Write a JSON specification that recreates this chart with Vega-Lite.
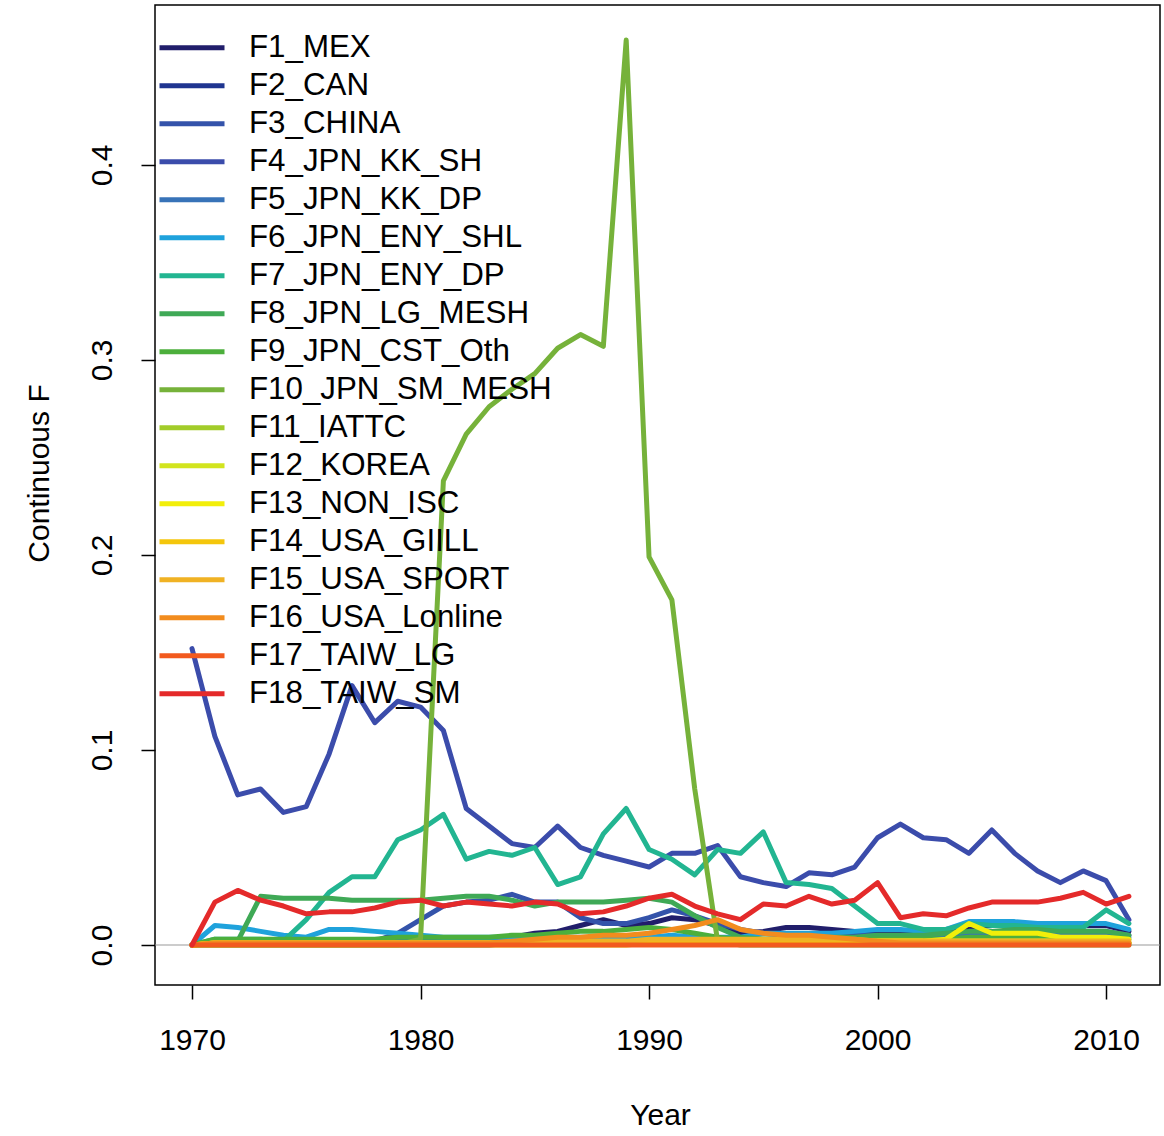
{
  "$schema": "https://vega.github.io/schema/vega-lite/v6.json",
  "width": 1005,
  "height": 980,
  "autosize": {"type": "none"},
  "padding": {"left": 155, "top": 5, "right": 4, "bottom": 151},
  "background": "white",
  "config": {
    "view": {"stroke": "black", "strokeWidth": 1.5},
    "font": "Liberation Sans"
  },
  "layer": [
    {
      "data": {"values": [{"ref": "zero"}]},
      "mark": {"type": "rule", "color": "#9a9a9a", "strokeWidth": 1.2},
      "encoding": {"y": {"datum": 0, "type": "quantitative"}}
    },
    {
      "data": {"values": [
{"year":1970,"F1_MEX":0,"F2_CAN":0,"F3_CHINA":0,"F4_JPN_KK_SH":0.152,"F5_JPN_KK_DP":0,"F6_JPN_ENY_SHL":0,"F7_JPN_ENY_DP":0,"F8_JPN_LG_MESH":0,"F9_JPN_CST_Oth":0,"F10_JPN_SM_MESH":0,"F11_IATTC":0,"F12_KOREA":0,"F13_NON_ISC":0,"F14_USA_GIILL":0,"F15_USA_SPORT":0,"F16_USA_Lonline":0,"F17_TAIW_LG":0,"F18_TAIW_SM":0},
{"year":1971,"F1_MEX":0.001,"F2_CAN":0,"F3_CHINA":0.001,"F4_JPN_KK_SH":0.107,"F5_JPN_KK_DP":0.002,"F6_JPN_ENY_SHL":0.010,"F7_JPN_ENY_DP":0.003,"F8_JPN_LG_MESH":0.001,"F9_JPN_CST_Oth":0.003,"F10_JPN_SM_MESH":0,"F11_IATTC":0.001,"F12_KOREA":0,"F13_NON_ISC":0.001,"F14_USA_GIILL":0.001,"F15_USA_SPORT":0.001,"F16_USA_Lonline":0.001,"F17_TAIW_LG":0,"F18_TAIW_SM":0.022},
{"year":1972,"F1_MEX":0.001,"F2_CAN":0,"F3_CHINA":0.001,"F4_JPN_KK_SH":0.077,"F5_JPN_KK_DP":0.002,"F6_JPN_ENY_SHL":0.009,"F7_JPN_ENY_DP":0.003,"F8_JPN_LG_MESH":0.002,"F9_JPN_CST_Oth":0.003,"F10_JPN_SM_MESH":0,"F11_IATTC":0.001,"F12_KOREA":0,"F13_NON_ISC":0.001,"F14_USA_GIILL":0.001,"F15_USA_SPORT":0.001,"F16_USA_Lonline":0.001,"F17_TAIW_LG":0,"F18_TAIW_SM":0.028},
{"year":1973,"F1_MEX":0.001,"F2_CAN":0,"F3_CHINA":0.001,"F4_JPN_KK_SH":0.080,"F5_JPN_KK_DP":0.002,"F6_JPN_ENY_SHL":0.007,"F7_JPN_ENY_DP":0.003,"F8_JPN_LG_MESH":0.025,"F9_JPN_CST_Oth":0.003,"F10_JPN_SM_MESH":0,"F11_IATTC":0.001,"F12_KOREA":0,"F13_NON_ISC":0.001,"F14_USA_GIILL":0.001,"F15_USA_SPORT":0.001,"F16_USA_Lonline":0.001,"F17_TAIW_LG":0,"F18_TAIW_SM":0.023},
{"year":1974,"F1_MEX":0.001,"F2_CAN":0,"F3_CHINA":0.001,"F4_JPN_KK_SH":0.068,"F5_JPN_KK_DP":0.002,"F6_JPN_ENY_SHL":0.005,"F7_JPN_ENY_DP":0.002,"F8_JPN_LG_MESH":0.024,"F9_JPN_CST_Oth":0.003,"F10_JPN_SM_MESH":0,"F11_IATTC":0.001,"F12_KOREA":0,"F13_NON_ISC":0.001,"F14_USA_GIILL":0.001,"F15_USA_SPORT":0.001,"F16_USA_Lonline":0.001,"F17_TAIW_LG":0,"F18_TAIW_SM":0.020},
{"year":1975,"F1_MEX":0.001,"F2_CAN":0,"F3_CHINA":0.001,"F4_JPN_KK_SH":0.071,"F5_JPN_KK_DP":0.002,"F6_JPN_ENY_SHL":0.004,"F7_JPN_ENY_DP":0.013,"F8_JPN_LG_MESH":0.024,"F9_JPN_CST_Oth":0.003,"F10_JPN_SM_MESH":0,"F11_IATTC":0.001,"F12_KOREA":0,"F13_NON_ISC":0.001,"F14_USA_GIILL":0.001,"F15_USA_SPORT":0.001,"F16_USA_Lonline":0.001,"F17_TAIW_LG":0,"F18_TAIW_SM":0.016},
{"year":1976,"F1_MEX":0.001,"F2_CAN":0,"F3_CHINA":0.001,"F4_JPN_KK_SH":0.098,"F5_JPN_KK_DP":0.002,"F6_JPN_ENY_SHL":0.008,"F7_JPN_ENY_DP":0.027,"F8_JPN_LG_MESH":0.024,"F9_JPN_CST_Oth":0.003,"F10_JPN_SM_MESH":0,"F11_IATTC":0.001,"F12_KOREA":0,"F13_NON_ISC":0.001,"F14_USA_GIILL":0.001,"F15_USA_SPORT":0.001,"F16_USA_Lonline":0.001,"F17_TAIW_LG":0,"F18_TAIW_SM":0.017},
{"year":1977,"F1_MEX":0.001,"F2_CAN":0,"F3_CHINA":0.002,"F4_JPN_KK_SH":0.133,"F5_JPN_KK_DP":0.002,"F6_JPN_ENY_SHL":0.008,"F7_JPN_ENY_DP":0.035,"F8_JPN_LG_MESH":0.023,"F9_JPN_CST_Oth":0.003,"F10_JPN_SM_MESH":0,"F11_IATTC":0.001,"F12_KOREA":0,"F13_NON_ISC":0.001,"F14_USA_GIILL":0.001,"F15_USA_SPORT":0.001,"F16_USA_Lonline":0.001,"F17_TAIW_LG":0,"F18_TAIW_SM":0.017},
{"year":1978,"F1_MEX":0.001,"F2_CAN":0,"F3_CHINA":0.002,"F4_JPN_KK_SH":0.114,"F5_JPN_KK_DP":0.002,"F6_JPN_ENY_SHL":0.007,"F7_JPN_ENY_DP":0.035,"F8_JPN_LG_MESH":0.023,"F9_JPN_CST_Oth":0.003,"F10_JPN_SM_MESH":0,"F11_IATTC":0.001,"F12_KOREA":0,"F13_NON_ISC":0.001,"F14_USA_GIILL":0.001,"F15_USA_SPORT":0.001,"F16_USA_Lonline":0.001,"F17_TAIW_LG":0,"F18_TAIW_SM":0.019},
{"year":1979,"F1_MEX":0.001,"F2_CAN":0,"F3_CHINA":0.006,"F4_JPN_KK_SH":0.125,"F5_JPN_KK_DP":0.002,"F6_JPN_ENY_SHL":0.006,"F7_JPN_ENY_DP":0.054,"F8_JPN_LG_MESH":0.023,"F9_JPN_CST_Oth":0.004,"F10_JPN_SM_MESH":0,"F11_IATTC":0.001,"F12_KOREA":0,"F13_NON_ISC":0.001,"F14_USA_GIILL":0.001,"F15_USA_SPORT":0.001,"F16_USA_Lonline":0.001,"F17_TAIW_LG":0,"F18_TAIW_SM":0.022},
{"year":1980,"F1_MEX":0.001,"F2_CAN":0,"F3_CHINA":0.013,"F4_JPN_KK_SH":0.122,"F5_JPN_KK_DP":0.002,"F6_JPN_ENY_SHL":0.005,"F7_JPN_ENY_DP":0.059,"F8_JPN_LG_MESH":0.023,"F9_JPN_CST_Oth":0.004,"F10_JPN_SM_MESH":0.003,"F11_IATTC":0.001,"F12_KOREA":0,"F13_NON_ISC":0.001,"F14_USA_GIILL":0.001,"F15_USA_SPORT":0.001,"F16_USA_Lonline":0.001,"F17_TAIW_LG":0,"F18_TAIW_SM":0.023},
{"year":1981,"F1_MEX":0.001,"F2_CAN":0,"F3_CHINA":0.020,"F4_JPN_KK_SH":0.110,"F5_JPN_KK_DP":0.002,"F6_JPN_ENY_SHL":0.004,"F7_JPN_ENY_DP":0.067,"F8_JPN_LG_MESH":0.024,"F9_JPN_CST_Oth":0.004,"F10_JPN_SM_MESH":0.238,"F11_IATTC":0.001,"F12_KOREA":0,"F13_NON_ISC":0.001,"F14_USA_GIILL":0.001,"F15_USA_SPORT":0.001,"F16_USA_Lonline":0.001,"F17_TAIW_LG":0,"F18_TAIW_SM":0.020},
{"year":1982,"F1_MEX":0.002,"F2_CAN":0,"F3_CHINA":0.022,"F4_JPN_KK_SH":0.070,"F5_JPN_KK_DP":0.002,"F6_JPN_ENY_SHL":0.004,"F7_JPN_ENY_DP":0.044,"F8_JPN_LG_MESH":0.025,"F9_JPN_CST_Oth":0.004,"F10_JPN_SM_MESH":0.262,"F11_IATTC":0.001,"F12_KOREA":0,"F13_NON_ISC":0.001,"F14_USA_GIILL":0.001,"F15_USA_SPORT":0.001,"F16_USA_Lonline":0.001,"F17_TAIW_LG":0,"F18_TAIW_SM":0.022},
{"year":1983,"F1_MEX":0.003,"F2_CAN":0,"F3_CHINA":0.023,"F4_JPN_KK_SH":0.061,"F5_JPN_KK_DP":0.002,"F6_JPN_ENY_SHL":0.004,"F7_JPN_ENY_DP":0.048,"F8_JPN_LG_MESH":0.025,"F9_JPN_CST_Oth":0.004,"F10_JPN_SM_MESH":0.276,"F11_IATTC":0.001,"F12_KOREA":0,"F13_NON_ISC":0.001,"F14_USA_GIILL":0.001,"F15_USA_SPORT":0.001,"F16_USA_Lonline":0.001,"F17_TAIW_LG":0,"F18_TAIW_SM":0.021},
{"year":1984,"F1_MEX":0.004,"F2_CAN":0.001,"F3_CHINA":0.026,"F4_JPN_KK_SH":0.052,"F5_JPN_KK_DP":0.003,"F6_JPN_ENY_SHL":0.004,"F7_JPN_ENY_DP":0.046,"F8_JPN_LG_MESH":0.023,"F9_JPN_CST_Oth":0.005,"F10_JPN_SM_MESH":0.285,"F11_IATTC":0.001,"F12_KOREA":0,"F13_NON_ISC":0.001,"F14_USA_GIILL":0.001,"F15_USA_SPORT":0.001,"F16_USA_Lonline":0.002,"F17_TAIW_LG":0,"F18_TAIW_SM":0.020},
{"year":1985,"F1_MEX":0.006,"F2_CAN":0.001,"F3_CHINA":0.022,"F4_JPN_KK_SH":0.050,"F5_JPN_KK_DP":0.003,"F6_JPN_ENY_SHL":0.004,"F7_JPN_ENY_DP":0.050,"F8_JPN_LG_MESH":0.020,"F9_JPN_CST_Oth":0.005,"F10_JPN_SM_MESH":0.293,"F11_IATTC":0.001,"F12_KOREA":0,"F13_NON_ISC":0.001,"F14_USA_GIILL":0.001,"F15_USA_SPORT":0.002,"F16_USA_Lonline":0.003,"F17_TAIW_LG":0,"F18_TAIW_SM":0.022},
{"year":1986,"F1_MEX":0.007,"F2_CAN":0.001,"F3_CHINA":0.022,"F4_JPN_KK_SH":0.061,"F5_JPN_KK_DP":0.003,"F6_JPN_ENY_SHL":0.004,"F7_JPN_ENY_DP":0.031,"F8_JPN_LG_MESH":0.022,"F9_JPN_CST_Oth":0.006,"F10_JPN_SM_MESH":0.306,"F11_IATTC":0.001,"F12_KOREA":0,"F13_NON_ISC":0.001,"F14_USA_GIILL":0.001,"F15_USA_SPORT":0.002,"F16_USA_Lonline":0.004,"F17_TAIW_LG":0,"F18_TAIW_SM":0.021},
{"year":1987,"F1_MEX":0.010,"F2_CAN":0.001,"F3_CHINA":0.014,"F4_JPN_KK_SH":0.050,"F5_JPN_KK_DP":0.003,"F6_JPN_ENY_SHL":0.004,"F7_JPN_ENY_DP":0.035,"F8_JPN_LG_MESH":0.022,"F9_JPN_CST_Oth":0.007,"F10_JPN_SM_MESH":0.313,"F11_IATTC":0.001,"F12_KOREA":0,"F13_NON_ISC":0.001,"F14_USA_GIILL":0.001,"F15_USA_SPORT":0.002,"F16_USA_Lonline":0.004,"F17_TAIW_LG":0,"F18_TAIW_SM":0.016},
{"year":1988,"F1_MEX":0.013,"F2_CAN":0.002,"F3_CHINA":0.011,"F4_JPN_KK_SH":0.046,"F5_JPN_KK_DP":0.003,"F6_JPN_ENY_SHL":0.004,"F7_JPN_ENY_DP":0.057,"F8_JPN_LG_MESH":0.022,"F9_JPN_CST_Oth":0.007,"F10_JPN_SM_MESH":0.307,"F11_IATTC":0.001,"F12_KOREA":0,"F13_NON_ISC":0.001,"F14_USA_GIILL":0.001,"F15_USA_SPORT":0.002,"F16_USA_Lonline":0.005,"F17_TAIW_LG":0,"F18_TAIW_SM":0.017},
{"year":1989,"F1_MEX":0.010,"F2_CAN":0.002,"F3_CHINA":0.011,"F4_JPN_KK_SH":0.043,"F5_JPN_KK_DP":0.003,"F6_JPN_ENY_SHL":0.004,"F7_JPN_ENY_DP":0.070,"F8_JPN_LG_MESH":0.023,"F9_JPN_CST_Oth":0.008,"F10_JPN_SM_MESH":0.464,"F11_IATTC":0.001,"F12_KOREA":0,"F13_NON_ISC":0.001,"F14_USA_GIILL":0.001,"F15_USA_SPORT":0.002,"F16_USA_Lonline":0.005,"F17_TAIW_LG":0,"F18_TAIW_SM":0.020},
{"year":1990,"F1_MEX":0.011,"F2_CAN":0.002,"F3_CHINA":0.014,"F4_JPN_KK_SH":0.040,"F5_JPN_KK_DP":0.003,"F6_JPN_ENY_SHL":0.004,"F7_JPN_ENY_DP":0.049,"F8_JPN_LG_MESH":0.024,"F9_JPN_CST_Oth":0.009,"F10_JPN_SM_MESH":0.199,"F11_IATTC":0.001,"F12_KOREA":0.001,"F13_NON_ISC":0.002,"F14_USA_GIILL":0.002,"F15_USA_SPORT":0.003,"F16_USA_Lonline":0.006,"F17_TAIW_LG":0,"F18_TAIW_SM":0.024},
{"year":1991,"F1_MEX":0.014,"F2_CAN":0.002,"F3_CHINA":0.018,"F4_JPN_KK_SH":0.047,"F5_JPN_KK_DP":0.003,"F6_JPN_ENY_SHL":0.005,"F7_JPN_ENY_DP":0.044,"F8_JPN_LG_MESH":0.022,"F9_JPN_CST_Oth":0.008,"F10_JPN_SM_MESH":0.177,"F11_IATTC":0.001,"F12_KOREA":0.001,"F13_NON_ISC":0.002,"F14_USA_GIILL":0.002,"F15_USA_SPORT":0.003,"F16_USA_Lonline":0.008,"F17_TAIW_LG":0,"F18_TAIW_SM":0.026},
{"year":1992,"F1_MEX":0.013,"F2_CAN":0.002,"F3_CHINA":0.015,"F4_JPN_KK_SH":0.047,"F5_JPN_KK_DP":0.003,"F6_JPN_ENY_SHL":0.004,"F7_JPN_ENY_DP":0.036,"F8_JPN_LG_MESH":0.015,"F9_JPN_CST_Oth":0.006,"F10_JPN_SM_MESH":0.080,"F11_IATTC":0.001,"F12_KOREA":0.001,"F13_NON_ISC":0.002,"F14_USA_GIILL":0.002,"F15_USA_SPORT":0.003,"F16_USA_Lonline":0.010,"F17_TAIW_LG":0,"F18_TAIW_SM":0.020},
{"year":1993,"F1_MEX":0.010,"F2_CAN":0.002,"F3_CHINA":0.011,"F4_JPN_KK_SH":0.051,"F5_JPN_KK_DP":0.003,"F6_JPN_ENY_SHL":0.004,"F7_JPN_ENY_DP":0.049,"F8_JPN_LG_MESH":0.009,"F9_JPN_CST_Oth":0.004,"F10_JPN_SM_MESH":0.002,"F11_IATTC":0.001,"F12_KOREA":0.001,"F13_NON_ISC":0.002,"F14_USA_GIILL":0.002,"F15_USA_SPORT":0.003,"F16_USA_Lonline":0.013,"F17_TAIW_LG":0,"F18_TAIW_SM":0.016},
{"year":1994,"F1_MEX":0.006,"F2_CAN":0.002,"F3_CHINA":0.008,"F4_JPN_KK_SH":0.035,"F5_JPN_KK_DP":0.003,"F6_JPN_ENY_SHL":0.004,"F7_JPN_ENY_DP":0.047,"F8_JPN_LG_MESH":0.004,"F9_JPN_CST_Oth":0.003,"F10_JPN_SM_MESH":0,"F11_IATTC":0.001,"F12_KOREA":0.001,"F13_NON_ISC":0.002,"F14_USA_GIILL":0.002,"F15_USA_SPORT":0.003,"F16_USA_Lonline":0.008,"F17_TAIW_LG":0,"F18_TAIW_SM":0.013},
{"year":1995,"F1_MEX":0.007,"F2_CAN":0.002,"F3_CHINA":0.006,"F4_JPN_KK_SH":0.032,"F5_JPN_KK_DP":0.003,"F6_JPN_ENY_SHL":0.006,"F7_JPN_ENY_DP":0.058,"F8_JPN_LG_MESH":0.003,"F9_JPN_CST_Oth":0.003,"F10_JPN_SM_MESH":0,"F11_IATTC":0.001,"F12_KOREA":0.001,"F13_NON_ISC":0.002,"F14_USA_GIILL":0.002,"F15_USA_SPORT":0.003,"F16_USA_Lonline":0.006,"F17_TAIW_LG":0,"F18_TAIW_SM":0.021},
{"year":1996,"F1_MEX":0.009,"F2_CAN":0.002,"F3_CHINA":0.005,"F4_JPN_KK_SH":0.030,"F5_JPN_KK_DP":0.003,"F6_JPN_ENY_SHL":0.006,"F7_JPN_ENY_DP":0.032,"F8_JPN_LG_MESH":0.003,"F9_JPN_CST_Oth":0.003,"F10_JPN_SM_MESH":0,"F11_IATTC":0.001,"F12_KOREA":0.001,"F13_NON_ISC":0.002,"F14_USA_GIILL":0.002,"F15_USA_SPORT":0.003,"F16_USA_Lonline":0.005,"F17_TAIW_LG":0,"F18_TAIW_SM":0.020},
{"year":1997,"F1_MEX":0.009,"F2_CAN":0.002,"F3_CHINA":0.005,"F4_JPN_KK_SH":0.037,"F5_JPN_KK_DP":0.003,"F6_JPN_ENY_SHL":0.006,"F7_JPN_ENY_DP":0.031,"F8_JPN_LG_MESH":0.004,"F9_JPN_CST_Oth":0.003,"F10_JPN_SM_MESH":0,"F11_IATTC":0.001,"F12_KOREA":0.001,"F13_NON_ISC":0.002,"F14_USA_GIILL":0.002,"F15_USA_SPORT":0.003,"F16_USA_Lonline":0.005,"F17_TAIW_LG":0,"F18_TAIW_SM":0.025},
{"year":1998,"F1_MEX":0.008,"F2_CAN":0.002,"F3_CHINA":0.005,"F4_JPN_KK_SH":0.036,"F5_JPN_KK_DP":0.003,"F6_JPN_ENY_SHL":0.006,"F7_JPN_ENY_DP":0.029,"F8_JPN_LG_MESH":0.004,"F9_JPN_CST_Oth":0.003,"F10_JPN_SM_MESH":0,"F11_IATTC":0.001,"F12_KOREA":0.001,"F13_NON_ISC":0.002,"F14_USA_GIILL":0.002,"F15_USA_SPORT":0.003,"F16_USA_Lonline":0.004,"F17_TAIW_LG":0,"F18_TAIW_SM":0.021},
{"year":1999,"F1_MEX":0.007,"F2_CAN":0.002,"F3_CHINA":0.005,"F4_JPN_KK_SH":0.040,"F5_JPN_KK_DP":0.003,"F6_JPN_ENY_SHL":0.007,"F7_JPN_ENY_DP":0.020,"F8_JPN_LG_MESH":0.004,"F9_JPN_CST_Oth":0.003,"F10_JPN_SM_MESH":0,"F11_IATTC":0.001,"F12_KOREA":0.001,"F13_NON_ISC":0.002,"F14_USA_GIILL":0.002,"F15_USA_SPORT":0.003,"F16_USA_Lonline":0.003,"F17_TAIW_LG":0,"F18_TAIW_SM":0.023},
{"year":2000,"F1_MEX":0.006,"F2_CAN":0.002,"F3_CHINA":0.005,"F4_JPN_KK_SH":0.055,"F5_JPN_KK_DP":0.004,"F6_JPN_ENY_SHL":0.008,"F7_JPN_ENY_DP":0.011,"F8_JPN_LG_MESH":0.005,"F9_JPN_CST_Oth":0.003,"F10_JPN_SM_MESH":0,"F11_IATTC":0.001,"F12_KOREA":0.002,"F13_NON_ISC":0.002,"F14_USA_GIILL":0.001,"F15_USA_SPORT":0.002,"F16_USA_Lonline":0.002,"F17_TAIW_LG":0,"F18_TAIW_SM":0.032},
{"year":2001,"F1_MEX":0.006,"F2_CAN":0.002,"F3_CHINA":0.005,"F4_JPN_KK_SH":0.062,"F5_JPN_KK_DP":0.004,"F6_JPN_ENY_SHL":0.008,"F7_JPN_ENY_DP":0.011,"F8_JPN_LG_MESH":0.005,"F9_JPN_CST_Oth":0.003,"F10_JPN_SM_MESH":0,"F11_IATTC":0.001,"F12_KOREA":0.002,"F13_NON_ISC":0.002,"F14_USA_GIILL":0.001,"F15_USA_SPORT":0.002,"F16_USA_Lonline":0.001,"F17_TAIW_LG":0,"F18_TAIW_SM":0.014},
{"year":2002,"F1_MEX":0.006,"F2_CAN":0.002,"F3_CHINA":0.005,"F4_JPN_KK_SH":0.055,"F5_JPN_KK_DP":0.004,"F6_JPN_ENY_SHL":0.007,"F7_JPN_ENY_DP":0.008,"F8_JPN_LG_MESH":0.005,"F9_JPN_CST_Oth":0.003,"F10_JPN_SM_MESH":0,"F11_IATTC":0.001,"F12_KOREA":0.002,"F13_NON_ISC":0.002,"F14_USA_GIILL":0.001,"F15_USA_SPORT":0.002,"F16_USA_Lonline":0.001,"F17_TAIW_LG":0,"F18_TAIW_SM":0.016},
{"year":2003,"F1_MEX":0.007,"F2_CAN":0.002,"F3_CHINA":0.005,"F4_JPN_KK_SH":0.054,"F5_JPN_KK_DP":0.004,"F6_JPN_ENY_SHL":0.008,"F7_JPN_ENY_DP":0.008,"F8_JPN_LG_MESH":0.006,"F9_JPN_CST_Oth":0.003,"F10_JPN_SM_MESH":0,"F11_IATTC":0.001,"F12_KOREA":0.002,"F13_NON_ISC":0.003,"F14_USA_GIILL":0.001,"F15_USA_SPORT":0.002,"F16_USA_Lonline":0.001,"F17_TAIW_LG":0,"F18_TAIW_SM":0.015},
{"year":2004,"F1_MEX":0.009,"F2_CAN":0.002,"F3_CHINA":0.006,"F4_JPN_KK_SH":0.047,"F5_JPN_KK_DP":0.005,"F6_JPN_ENY_SHL":0.012,"F7_JPN_ENY_DP":0.011,"F8_JPN_LG_MESH":0.007,"F9_JPN_CST_Oth":0.004,"F10_JPN_SM_MESH":0,"F11_IATTC":0.001,"F12_KOREA":0.002,"F13_NON_ISC":0.011,"F14_USA_GIILL":0.001,"F15_USA_SPORT":0.002,"F16_USA_Lonline":0.001,"F17_TAIW_LG":0,"F18_TAIW_SM":0.019},
{"year":2005,"F1_MEX":0.010,"F2_CAN":0.002,"F3_CHINA":0.006,"F4_JPN_KK_SH":0.059,"F5_JPN_KK_DP":0.005,"F6_JPN_ENY_SHL":0.012,"F7_JPN_ENY_DP":0.010,"F8_JPN_LG_MESH":0.007,"F9_JPN_CST_Oth":0.004,"F10_JPN_SM_MESH":0,"F11_IATTC":0.001,"F12_KOREA":0.002,"F13_NON_ISC":0.006,"F14_USA_GIILL":0.001,"F15_USA_SPORT":0.002,"F16_USA_Lonline":0.001,"F17_TAIW_LG":0,"F18_TAIW_SM":0.022},
{"year":2006,"F1_MEX":0.010,"F2_CAN":0.002,"F3_CHINA":0.006,"F4_JPN_KK_SH":0.047,"F5_JPN_KK_DP":0.005,"F6_JPN_ENY_SHL":0.012,"F7_JPN_ENY_DP":0.010,"F8_JPN_LG_MESH":0.008,"F9_JPN_CST_Oth":0.004,"F10_JPN_SM_MESH":0,"F11_IATTC":0.001,"F12_KOREA":0.002,"F13_NON_ISC":0.006,"F14_USA_GIILL":0.001,"F15_USA_SPORT":0.002,"F16_USA_Lonline":0.001,"F17_TAIW_LG":0,"F18_TAIW_SM":0.022},
{"year":2007,"F1_MEX":0.010,"F2_CAN":0.002,"F3_CHINA":0.006,"F4_JPN_KK_SH":0.038,"F5_JPN_KK_DP":0.005,"F6_JPN_ENY_SHL":0.011,"F7_JPN_ENY_DP":0.009,"F8_JPN_LG_MESH":0.008,"F9_JPN_CST_Oth":0.004,"F10_JPN_SM_MESH":0,"F11_IATTC":0.001,"F12_KOREA":0.002,"F13_NON_ISC":0.006,"F14_USA_GIILL":0.001,"F15_USA_SPORT":0.002,"F16_USA_Lonline":0.001,"F17_TAIW_LG":0,"F18_TAIW_SM":0.022},
{"year":2008,"F1_MEX":0.010,"F2_CAN":0.002,"F3_CHINA":0.007,"F4_JPN_KK_SH":0.032,"F5_JPN_KK_DP":0.005,"F6_JPN_ENY_SHL":0.011,"F7_JPN_ENY_DP":0.009,"F8_JPN_LG_MESH":0.007,"F9_JPN_CST_Oth":0.004,"F10_JPN_SM_MESH":0,"F11_IATTC":0.001,"F12_KOREA":0.002,"F13_NON_ISC":0.004,"F14_USA_GIILL":0.001,"F15_USA_SPORT":0.002,"F16_USA_Lonline":0.001,"F17_TAIW_LG":0,"F18_TAIW_SM":0.024},
{"year":2009,"F1_MEX":0.010,"F2_CAN":0.002,"F3_CHINA":0.007,"F4_JPN_KK_SH":0.038,"F5_JPN_KK_DP":0.005,"F6_JPN_ENY_SHL":0.011,"F7_JPN_ENY_DP":0.009,"F8_JPN_LG_MESH":0.007,"F9_JPN_CST_Oth":0.004,"F10_JPN_SM_MESH":0,"F11_IATTC":0.001,"F12_KOREA":0.002,"F13_NON_ISC":0.004,"F14_USA_GIILL":0.001,"F15_USA_SPORT":0.002,"F16_USA_Lonline":0.001,"F17_TAIW_LG":0,"F18_TAIW_SM":0.027},
{"year":2010,"F1_MEX":0.010,"F2_CAN":0.002,"F3_CHINA":0.007,"F4_JPN_KK_SH":0.033,"F5_JPN_KK_DP":0.005,"F6_JPN_ENY_SHL":0.011,"F7_JPN_ENY_DP":0.018,"F8_JPN_LG_MESH":0.007,"F9_JPN_CST_Oth":0.004,"F10_JPN_SM_MESH":0,"F11_IATTC":0.001,"F12_KOREA":0.002,"F13_NON_ISC":0.004,"F14_USA_GIILL":0.001,"F15_USA_SPORT":0.002,"F16_USA_Lonline":0.001,"F17_TAIW_LG":0,"F18_TAIW_SM":0.021},
{"year":2011,"F1_MEX":0.007,"F2_CAN":0.001,"F3_CHINA":0.005,"F4_JPN_KK_SH":0.013,"F5_JPN_KK_DP":0.004,"F6_JPN_ENY_SHL":0.008,"F7_JPN_ENY_DP":0.011,"F8_JPN_LG_MESH":0.005,"F9_JPN_CST_Oth":0.003,"F10_JPN_SM_MESH":0,"F11_IATTC":0.001,"F12_KOREA":0.001,"F13_NON_ISC":0.003,"F14_USA_GIILL":0.001,"F15_USA_SPORT":0.002,"F16_USA_Lonline":0.001,"F17_TAIW_LG":0,"F18_TAIW_SM":0.025}
      ]},
      "transform": [
        {"fold": ["F1_MEX","F2_CAN","F3_CHINA","F4_JPN_KK_SH","F5_JPN_KK_DP","F6_JPN_ENY_SHL","F7_JPN_ENY_DP","F8_JPN_LG_MESH","F9_JPN_CST_Oth","F10_JPN_SM_MESH","F11_IATTC","F12_KOREA","F13_NON_ISC","F14_USA_GIILL","F15_USA_SPORT","F16_USA_Lonline","F17_TAIW_LG","F18_TAIW_SM"], "as": ["series", "F"]}
      ],
      "mark": {"type": "line", "strokeWidth": 5, "strokeJoin": "round", "strokeCap": "round", "clip": true},
      "encoding": {
        "x": {
          "field": "year", "type": "quantitative",
          "scale": {"domain": [1968.38, 2012.36], "nice": false, "zero": false},
          "axis": {
            "values": [1970, 1980, 1990, 2000, 2010], "format": "d",
            "grid": false, "domain": false,
            "tickColor": "black", "tickSize": 14, "tickWidth": 1.5,
            "labelFontSize": 30, "labelColor": "black", "labelPadding": 26,
            "labelFlush": false, "labelOverlap": false,
            "title": "Year", "titleFontSize": 30, "titleFontWeight": "normal", "titleColor": "black",
            "titleX": 505, "titleY": 139, "titleBaseline": "alphabetic", "titleAlign": "center"
          }
        },
        "y": {
          "field": "F", "type": "quantitative",
          "scale": {"domain": [-0.0205, 0.482], "nice": false, "zero": false},
          "axis": {
            "values": [0, 0.1, 0.2, 0.3, 0.4], "format": ".1f",
            "grid": false, "domain": false,
            "tickColor": "black", "tickSize": 14, "tickWidth": 1.5,
            "labelFontSize": 30, "labelColor": "black", "labelAngle": -90,
            "labelAlign": "center", "labelBaseline": "alphabetic", "labelPadding": 30,
            "labelFlush": false, "labelOverlap": false,
            "title": "Continuous F", "titleFontSize": 30, "titleFontWeight": "normal", "titleColor": "black",
            "titleAngle": -90, "titleX": -107, "titleY": 468, "titleBaseline": "alphabetic", "titleAlign": "center"
          }
        },
        "color": {
          "field": "series", "type": "nominal",
          "scale": {
            "domain": ["F1_MEX","F2_CAN","F3_CHINA","F4_JPN_KK_SH","F5_JPN_KK_DP","F6_JPN_ENY_SHL","F7_JPN_ENY_DP","F8_JPN_LG_MESH","F9_JPN_CST_Oth","F10_JPN_SM_MESH","F11_IATTC","F12_KOREA","F13_NON_ISC","F14_USA_GIILL","F15_USA_SPORT","F16_USA_Lonline","F17_TAIW_LG","F18_TAIW_SM"],
            "range": ["#211e6b","#1f3590","#3453aa","#3b4cab","#3873b8","#1fa2dc","#22b591","#3fa956","#4caf3c","#76b23a","#a2cc2a","#d2e41e","#f2ee0a","#f4c60c","#f0b224","#f28c1e","#f25a1e","#e42a2a"]
          },
          "legend": {
            "orient": "none", "legendX": 2, "legendY": 24,
            "title": null, "padding": 0, "offset": 0,
            "symbolType": "stroke", "symbolSize": 4225, "symbolStrokeWidth": 5,
            "labelFontSize": 31.3, "labelColor": "black", "labelOffset": 22, "labelLimit": 0,
            "clipHeight": 37.3, "rowPadding": -0.6
          }
        }
      }
    }
  ]
}
